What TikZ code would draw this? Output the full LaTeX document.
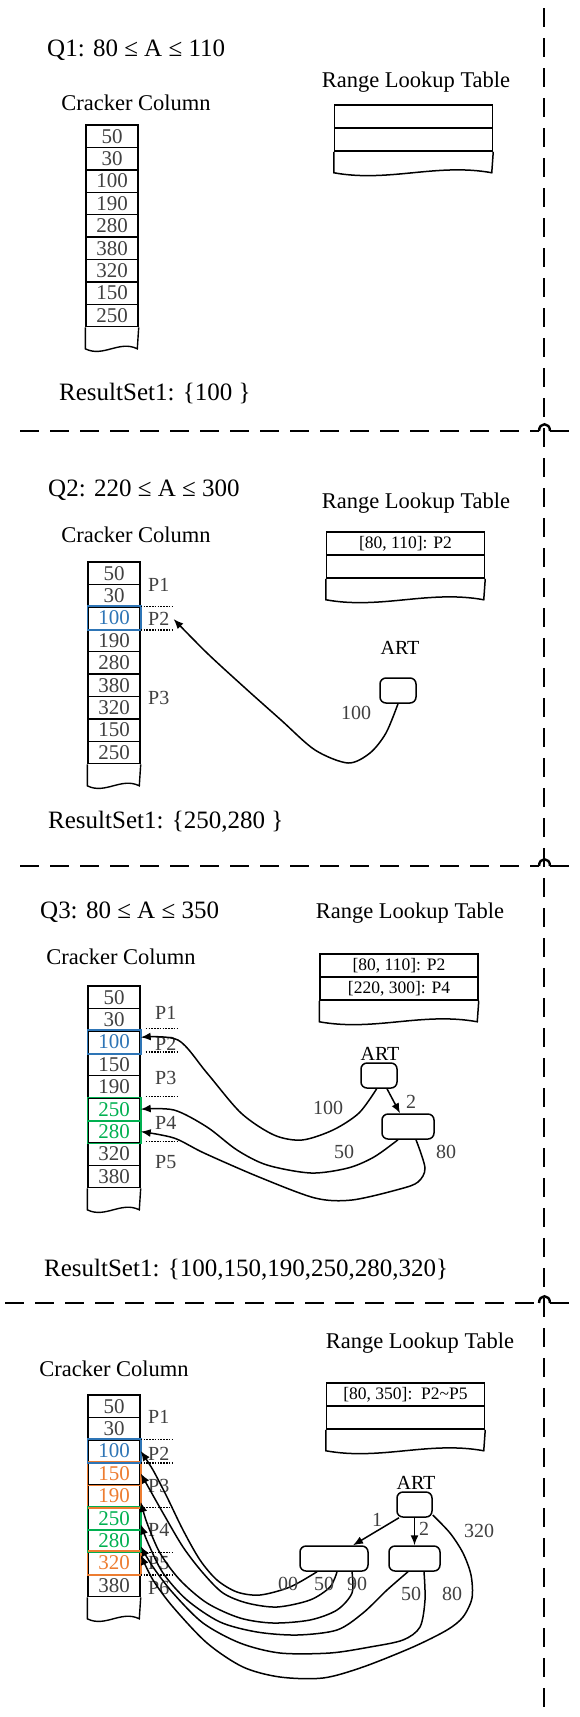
\documentclass[tikz,border=0pt]{standalone}
\usepackage{fontspec}
\setmainfont{Liberation Serif}
\usetikzlibrary{arrows.meta}

\definecolor{hlblue}{RGB}{46,117,182}
\definecolor{hlorange}{RGB}{237,125,49}
\definecolor{hlgreen}{RGB}{0,176,80}
\definecolor{numgray}{RGB}{64,64,64}

\tikzset{
  cell/.style={draw, line width=1.4pt, minimum width=52pt, minimum height=22.4pt, inner sep=0pt, text=numgray, font=\fontsize{21}{21}\selectfont},
  hlcell/.style={line width=1.6pt},
  tabrow/.style={draw, line width=1.5pt, minimum width=158pt, minimum height=23pt, inner sep=0pt, font=\fontsize{17.5}{17.5}\selectfont},
  querytext/.style={anchor=west, inner sep=0pt, font=\fontsize{25}{25}\selectfont},
  headtext/.style={inner sep=0pt, font=\fontsize{22.5}{22.5}\selectfont},
  partlabel/.style={anchor=west, inner sep=0pt, text=numgray, font=\fontsize{20}{20}\selectfont},
  keylabel/.style={inner sep=0pt, text=numgray, font=\fontsize{20}{20}\selectfont},
  artlabel/.style={inner sep=0pt, font=\fontsize{20}{20}\selectfont},
  artbox/.style={draw, line width=1.5pt, rounded corners=6pt, minimum height=25pt, inner sep=0pt},
  pointer/.style={line width=1.5pt, -{Latex[length=10pt, width=8pt]}},
  boundary/.style={line width=1.2pt, dash pattern=on 1.6pt off 1.2pt},
  divider/.style={line width=2.4pt, dash pattern=on 19pt off 11pt},
}

\begin{document}
\begin{tikzpicture}[x=1pt, y=-1pt]
  \useasboundingbox (0,0) rectangle (580,1717);

  % dividers between the queries
  \draw[divider] (544,8) -- (544,1717);
  \foreach \y/\x in {431/20, 866/20, 1303/5} {
    \draw[divider] (\x,\y) -- (539,\y);
    \draw[line width=2.4pt] (539,\y) .. controls (539,\y-9) and (550,\y-9) .. (550,\y);
    \draw[divider] (550,\y) -- (580,\y);
  }

  % ---- query 1 ----
  \node[querytext] (q1) at (47,50) {Q1: 80 ≤ A ≤ 110};
  \node[headtext] (rlt1) at (416,82) {Range Lookup Table};
  \node[headtext] (cc1) at (136,103) {Cracker Column};

  \node[tabrow] (t1a) at (413.5,116.5) {};
  \node[tabrow] (t1b) at (413.5,139.5) {};
  \draw[line width=1.5pt] (t1b.south west) -- ++(0,21) .. controls +(55,10) and +(-55,-10) .. ++(158,0) -- (t1b.south east);

  \foreach \v [count=\i] in {50,30,100,190,280,380,320,150,250}
    \node[cell] (s1c\i) at (112,{125+22.4*\i-11.2}) {\v};
  \draw[line width=1.4pt] (s1c9.south west) -- ++(0,21.5) .. controls +(18,9) and +(-18,-9) .. ++(52,0) -- (s1c9.south east);

  \node[querytext] (res1) at (59,393) {ResultSet1: \{100 \}};

  % ---- query 2 ----
  \node[querytext] (q2) at (48,490) {Q2: 220 ≤ A ≤ 300};
  \node[headtext] (rlt2) at (416,503) {Range Lookup Table};
  \node[headtext] (cc2) at (136,535) {Cracker Column};

  \node[tabrow] (t2a) at (405.5,543.5) {[80, 110]: P2};
  \node[tabrow] (t2b) at (405.5,566.5) {};
  \draw[line width=1.5pt] (t2b.south west) -- ++(0,21) .. controls +(55,10) and +(-55,-10) .. ++(158,0) -- (t2b.south east);

  \foreach \v/\tc [count=\i] in {50/numgray,30/numgray,100/hlblue,190/numgray,280/numgray,380/numgray,320/numgray,150/numgray,250/numgray}
    \node[cell, text=\tc] (s2c\i) at (114,{562+22.4*\i-11.2}) {\v};
  \draw[line width=1.4pt] (s2c9.south west) -- ++(0,21.5) .. controls +(18,9) and +(-18,-9) .. ++(52,0) -- (s2c9.south east);
  \draw[hlcell, hlblue] (s2c3.north west) rectangle (s2c3.south east);

  \node[partlabel] (s2p1) at (148,585) {P1};
  \node[partlabel] (s2p2) at (148,619) {P2};
  \node[partlabel] (s2p3) at (148,698) {P3};
  \draw[boundary] (s2c3.north east) -- ++(32,0);
  \draw[boundary] (s2c3.south east) -- ++(32,0);

  \node[artlabel] (artl2) at (400,648) {ART};
  \node[artbox, minimum width=36pt] (art2) at (398,690.5) {};
  \coordinate (tip2) at ([xshift=4pt]s2p2.east);
  \draw[pointer] plot[smooth] coordinates {(art2.south) (386,733) (370,753) (348,763) (315,750) (281,720) (244,687) (207,653) (tip2)};
  \node[keylabel] at (356,713) {100};

  \node[querytext] (res2) at (48,822) {ResultSet1: \{250,280 \}};

  % ---- query 3 ----
  \node[querytext] (q3) at (40,912) {Q3: 80 ≤ A ≤ 350};
  \node[headtext] (rlt3) at (410,913) {Range Lookup Table};
  \node[headtext] (cc3) at (121,957) {Cracker Column};

  \node[tabrow] (t3a) at (399,965.5) {[80, 110]: P2};
  \node[tabrow] (t3b) at (399,988.5) {[220, 300]: P4};
  \draw[line width=1.5pt] (t3b.south west) -- ++(0,21) .. controls +(55,10) and +(-55,-10) .. ++(158,0) -- (t3b.south east);

  \foreach \v/\tc [count=\i] in {50/numgray,30/numgray,100/hlblue,150/numgray,190/numgray,250/hlgreen,280/hlgreen,320/numgray,380/numgray}
    \node[cell, text=\tc] (s3c\i) at (114,{986+22.4*\i-11.2}) {\v};
  \draw[line width=1.4pt] (s3c9.south west) -- ++(0,21.5) .. controls +(18,9) and +(-18,-9) .. ++(52,0) -- (s3c9.south east);
  \draw[hlcell, hlblue] (s3c3.north west) rectangle (s3c3.south east);
  \draw[hlcell, hlgreen] (s3c6.north west) rectangle (s3c7.south east);
  \draw[hlcell, hlgreen] (s3c6.south west) -- (s3c6.south east);

  \node[partlabel] (s3p1) at (155,1013) {P1};
  \node[partlabel] (s3p2) at (155,1044) {P2};
  \node[partlabel] (s3p3) at (155,1078) {P3};
  \node[partlabel] (s3p4) at (155,1123) {P4};
  \node[partlabel] (s3p5) at (155,1162) {P5};
  \foreach \c/\a in {3/north, 3/south, 5/south, 7/south}
    \draw[boundary] ([xshift=5pt, yshift=2pt]s3c\c.\a\space east) -- ++(32,0);

  \node[artlabel] (artl3) at (380,1054) {ART};
  \node[artbox, minimum width=36pt] (art3) at (379,1075.5) {};
  \node[artbox, minimum width=52pt] (n3b) at (408,1126.5) {};
  \draw[pointer] ([xshift=8pt]art3.south) -- ([xshift=-8pt]n3b.north);
  \node[keylabel] at (411,1102) {2};

  \coordinate (n3b1) at ([xshift=-10pt]n3b.south);
  \coordinate (n3b2) at ([xshift=8pt]n3b.south);
  \draw[pointer] plot[smooth] coordinates {(art3.-100) (359,1113) (333,1130) (302,1140) (274,1135) (241,1113) (207,1073) (178,1040) (s3c3.10)};
  \draw[pointer] plot[smooth] coordinates {(n3b1) (374,1157) (348,1168) (311,1173) (267,1165) (237,1150) (207,1127) (174,1110) (s3c6.east)};
  \draw[pointer] plot[smooth] coordinates {(n3b2) (425,1168) (418,1182) (400,1189) (352,1200) (315,1198) (259,1177) (204,1153) (174,1138) (s3c7.east)};
  \node[keylabel] at (328,1108) {100};
  \node[keylabel] at (344,1152) {50};
  \node[keylabel] at (446,1152) {80};

  \node[querytext] (res3) at (44,1270) {ResultSet1: \{100,150,190,250,280,320\}};

  % ---- query 4 ----
  \node[headtext] (rlt4) at (420,1343) {Range Lookup Table};
  \node[headtext] (cc4) at (114,1369) {Cracker Column};

  \node[tabrow] (t4a) at (405.5,1394.5) {[80, 350]:\ \ P2\textasciitilde P5};
  \node[tabrow] (t4b) at (405.5,1417.5) {};
  \draw[line width=1.5pt] (t4b.south west) -- ++(0,21) .. controls +(55,10) and +(-55,-10) .. ++(158,0) -- (t4b.south east);

  \foreach \v/\tc [count=\i] in {50/numgray,30/numgray,100/hlblue,150/hlorange,190/hlorange,250/hlgreen,280/hlgreen,320/hlorange,380/numgray}
    \node[cell, text=\tc] (s4c\i) at (114,{1395+22.4*\i-11.2}) {\v};
  \draw[line width=1.4pt] (s4c9.south west) -- ++(0,21.5) .. controls +(18,9) and +(-18,-9) .. ++(52,0) -- (s4c9.south east);
  \draw[hlcell, hlorange] (s4c4.north west) rectangle (s4c5.south east);
  \draw[hlcell, hlorange] (s4c4.south west) -- (s4c4.south east);
  \draw[hlcell, hlorange] (s4c8.north west) rectangle (s4c8.south east);
  \draw[hlcell, hlgreen] (s4c6.north west) rectangle (s4c7.south east);
  \draw[hlcell, hlgreen] (s4c6.south west) -- (s4c6.south east);
  \draw[hlcell, hlblue] (s4c3.north west) rectangle (s4c3.south east);

  \node[partlabel] (s4p1) at (148,1417) {P1};
  \node[partlabel] (s4p2) at (148,1454) {P2};
  \node[partlabel] (s4p3) at (148,1486) {P3};
  \node[partlabel] (s4p4) at (148,1530) {P4};
  \node[partlabel] (s4p5) at (148,1563) {P5};
  \node[partlabel] (s4p6) at (148,1588) {P6};
  \foreach \c/\a in {3/north, 3/south, 5/south, 7/south, 8/south}
    \draw[boundary] (s4c\c.\a\space east) -- ++(31,0);

  \node[artlabel] (artl4) at (416,1483) {ART};
  \node[artbox, minimum width=35pt] (art4) at (414.5,1504.5) {};
  \node[artbox, minimum width=68pt] (n4a) at (334,1558.5) {};
  \node[artbox, minimum width=51pt] (n4b) at (414.5,1558.5) {};
  \draw[pointer] ([xshift=-15.5pt]art4.south) -- ([xshift=19pt]n4a.north);
  \draw[pointer] (art4.south) -- (n4b.north);
  \node[keylabel] at (377,1520) {1};
  \node[keylabel] at (424,1529) {2};
  \node[keylabel] at (479,1531) {320};

  \coordinate (n4a1) at ([xshift=-17pt]n4a.south);
  \coordinate (n4a2) at ([xshift=3pt]n4a.south);
  \coordinate (n4a3) at ([xshift=18pt]n4a.south);
  \coordinate (n4b1) at ([xshift=-6.5pt]n4b.south);
  \coordinate (n4b2) at ([xshift=9.5pt]n4b.south);
  \draw[pointer] plot[smooth] coordinates {(n4a1) (290,1587) (260,1595) (237,1592) (217,1580) (200,1560) (183,1530) (167,1497) (153,1470) (s4c3.east)};
  \draw[pointer] plot[smooth] coordinates {(n4a2) (330,1587) (310,1600) (277,1607) (247,1603) (223,1593) (203,1573) (183,1547) (163,1513) (150,1490) (s4c4.east)};
  \draw[pointer] plot[smooth] coordinates {(n4a3) (352,1593) (337,1610) (310,1620) (273,1623) (240,1618) (207,1603) (180,1580) (160,1553) (147,1523) (s4c5.-13)};
  \draw[pointer] plot[smooth] coordinates {(n4b1) (387,1590) (363,1613) (337,1630) (297,1635) (257,1632) (220,1622) (187,1600) (163,1573) (148,1543) (s4c6.-13)};
  \draw[pointer] plot[smooth] coordinates {(n4b2) (425,1600) (420,1627) (403,1640) (370,1647) (330,1653) (280,1653) (240,1643) (203,1623) (173,1593) (153,1567) (s4c7.-12)};
  \draw[pointer] plot[smooth] coordinates {(art4.-30) (450,1533) (463,1553) (471,1575) (472,1598) (463,1617) (447,1630) (413,1647) (363,1667) (323,1678) (280,1677) (243,1667) (207,1643) (173,1607) (153,1580) (s4c8.17)};
  \node[keylabel] at (288,1584) {00};
  \node[keylabel] at (324,1584) {50};
  \node[keylabel] at (357,1584) {90};
  \node[keylabel] at (411,1594) {50};
  \node[keylabel] at (452,1594) {80};
\end{tikzpicture}
\end{document}
